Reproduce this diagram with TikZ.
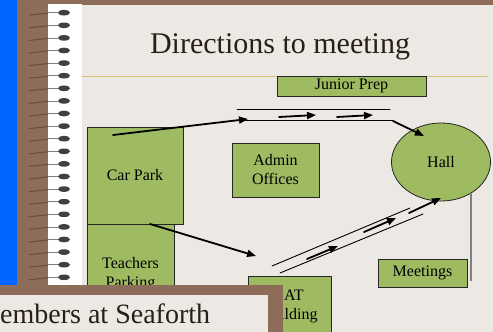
\documentclass[tikz,border=0pt]{standalone}
\usepackage{fontspec}
\setmainfont{Liberation Serif}
\usepackage{tikz}
\usepackage{tkz-euclide}
\usepackage{xcolor}
\usetikzlibrary{arrows.meta,shapes.geometric}

\definecolor{slidebg}{RGB}{236,232,228}
\definecolor{bindbrown}{RGB}{141,108,89}
\definecolor{coilbrown}{RGB}{105,80,62}
\definecolor{bindblue}{RGB}{0,102,255}
\definecolor{boxgreen}{RGB}{158,187,98}
\definecolor{titleink}{RGB}{40,32,24}
\definecolor{rulegold}{RGB}{214,190,120}

\tikzset{
  plot/.style={draw=black!85,fill=boxgreen,line width=0.8pt,inner sep=0pt,
    align=center,font=\fontsize{16}{19}\selectfont},
  road/.style={black,line width=0.9pt},
  way/.style={black,line width=1.8pt,-{Triangle[length=9pt,width=7pt]}}
}

\begin{document}
\begin{tikzpicture}[x=1pt,y=-1pt]
    \fill[slidebg] (0,0) rectangle (493,332);
    \useasboundingbox (0,0) rectangle (493,332);
    \fill[bindblue] (0,0) rectangle (17,285);
    \fill[bindbrown] (17,0) rectangle (48,285);
    \fill[bindbrown] (17,0) rectangle (493,5);
    \fill[white] (48,4) rectangle (82,285);
    \foreach \i in {0,...,21}{
      \draw[coilbrown,line width=1.1pt] (29,{15.2+12.6*\i}) -- (48,{13.2+12.6*\i});
      \draw[gray,line width=0.5pt] (48,{12.7+12.6*\i}) -- (58,{12.7+12.6*\i});
      \fill[black!75] (64,{12.7+12.6*\i}) ellipse (6 and 2.8);
    }
    \node[text=titleink,font=\fontsize{30}{36}\selectfont,anchor=base]
      (title) at (280,53) {Directions to meeting};
    \draw[rulegold,line width=1pt] (82,76) -- (488,76);
    \node[plot,minimum width=149,minimum height=20] (jprep) at (351.5,86) {Junior Prep};
    \node[plot,minimum width=87,minimum height=100] (tpark) at (130.5,274) {Teachers\\Parking};
    \node[plot,minimum width=96,minimum height=97] (cpark) at (135,175.5) {Car Park};
    \node[plot,minimum width=87,minimum height=54] (admin) at (275.5,170) {Admin\\Offices};
    \node[plot,ellipse,minimum width=99,minimum height=78] (hall) at (441,162) {Hall};
    \node[plot,minimum width=89,minimum height=28] (meet) at (422.5,273) {Meetings};
    \node[plot,minimum width=83,minimum height=60] (sat) at (289.5,306) {SAT\\Building};
    \draw[gray,line width=1.2pt] (471,193) -- (471,281);
    \tkzDefPoints{113/135/C_1,248/119/C_2,150/224/C_3,256/256/C_4}
    \tkzDefPoints{237/109/R_1,390/109/R_2,240/120/R_3,393/120/R_4}
    \tkzDefPoints{279/117/W_1,316/115/W_2,337/117/W_3,373/115/W_4,393/121/W_5,424/136/W_6}
    \tkzDefPoints{272/266/S_1,410/208/S_2,280/273/S_3,423/214/S_4}
    \tkzDefPoints{307/259/V_1,338/246/V_2,364/232/V_3,396/218/V_4,409/213/V_5,441/198/V_6}
    \tkzDrawSegments[road](R_1,R_2 R_3,R_4 S_1,S_2 S_3,S_4)
    \tkzDrawSegments[way](C_1,C_2 C_3,C_4 W_1,W_2 W_3,W_4 W_5,W_6)
    \tkzDrawSegments[way](V_1,V_2 V_3,V_4 V_5,V_6)
    \fill[bindbrown] (-5,285) rectangle (283,340);
    \fill[slidebg] (-5,295) rectangle (268,340);
    \node[text=titleink,font=\fontsize{28}{34}\selectfont,anchor=base west,inner sep=0pt]
      (caption) at (0,323) {embers at Seaforth};
\end{tikzpicture}
\end{document}
